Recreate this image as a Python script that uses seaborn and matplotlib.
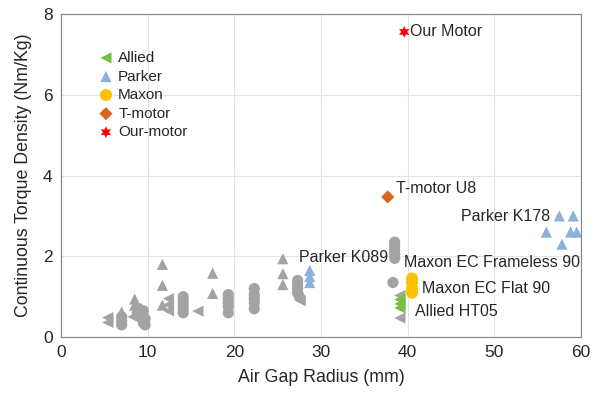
import matplotlib
matplotlib.use("Agg")
import matplotlib.pyplot as plt
import seaborn as sns
import pandas as pd

# ---- data ----
gray_circle_x = [7.0, 7.0, 7.0, 8.8, 9.0, 9.0, 9.5, 9.5, 9.5, 9.7, 9.7,
                 14.1, 14.1, 14.1, 14.1, 14.1,
                 19.3, 19.3, 19.3, 19.3, 19.3,
                 22.3, 22.3, 22.3, 22.3, 22.3,
                 27.3, 27.3, 27.3, 27.3, 27.5,
                 38.5, 38.5, 38.5, 38.5, 38.5, 38.3]
gray_circle_y = [0.5, 0.4, 0.3, 0.6, 0.7, 0.55, 0.65, 0.5, 0.35, 0.45, 0.3,
                 1.0, 0.9, 0.8, 0.7, 0.6,
                 1.05, 0.95, 0.85, 0.75, 0.6,
                 1.2, 1.05, 0.95, 0.85, 0.7,
                 1.4, 1.3, 1.2, 1.1, 1.0,
                 2.35, 2.25, 2.15, 2.05, 1.95, 1.35]
gray_up_x = [7.0, 8.5, 8.5, 11.7, 11.7, 11.7, 17.5, 17.5, 25.6, 25.6, 25.6]
gray_up_y = [0.62, 0.94, 0.79, 1.8, 1.28, 0.79, 1.58, 1.08, 1.94, 1.57, 1.3]
gray_left_x = [5.4, 5.4, 8.3, 12.4, 12.4, 12.4, 15.8, 27.6, 39.1, 39.1]
gray_left_y = [0.48, 0.36, 0.5, 0.95, 0.8, 0.65, 0.64, 0.9, 1.03, 0.47]

allied_x = [39.1, 39.1, 39.1]
allied_y = [0.93, 0.82, 0.72]
parker_x = [28.7, 28.7, 28.7, 57.5, 59.1, 56.0, 58.8, 59.5, 57.8]
parker_y = [1.65, 1.5, 1.35, 3.0, 3.0, 2.6, 2.6, 2.6, 2.3]
maxon_x = [40.5, 40.5, 40.5, 40.5]
maxon_y = [1.45, 1.35, 1.2, 1.1]
tmotor_x = [37.7]
tmotor_y = [3.47]
our_x = [39.6]
our_y = [7.56]

group_names = ["Allied", "Parker", "Maxon", "T-motor", "Our-motor"]

annotations = [
    ("Our Motor", 40.3, 7.56, "left"),
    ("T-motor U8", 38.6, 3.68, "left"),
    ("Parker K178", 56.4, 2.98, "right"),
    ("Parker K089", 27.5, 1.97, "left"),
    ("Maxon EC Frameless 90", 39.6, 1.85, "left"),
    ("Maxon EC Flat 90", 41.7, 1.2, "left"),
    ("Allied HT05", 40.9, 0.64, "left"),
]

# ---- style ----
sns.set_theme(style="whitegrid")
plt.rcParams["font.family"] = ["Liberation Sans", "DejaVu Sans"]
txt = "#262626"

fig = plt.figure(figsize=(5.98, 3.93), dpi=100)
ax = fig.add_axes([0.102, 0.1425, 0.8696, 0.8215])

gray = "#a3a3a3"
for gx, gy, mk in [(gray_circle_x, gray_circle_y, "o"),
                   (gray_up_x, gray_up_y, "^"),
                   (gray_left_x, gray_left_y, "<")]:
    sns.scatterplot(x=gx, y=gy, marker=mk, color=gray, s=65,
                    edgecolor="none", ax=ax, legend=False, zorder=3)

df = pd.concat([
    pd.DataFrame({"x": allied_x, "y": allied_y, "g": "Allied"}),
    pd.DataFrame({"x": parker_x, "y": parker_y, "g": "Parker"}),
    pd.DataFrame({"x": maxon_x, "y": maxon_y, "g": "Maxon"}),
    pd.DataFrame({"x": tmotor_x, "y": tmotor_y, "g": "T-motor"}),
    pd.DataFrame({"x": our_x, "y": our_y, "g": "Our-motor"}),
], ignore_index=True)

palette = {"Allied": "#77c043", "Parker": "#8eb1dc", "Maxon": "#ffc000",
           "T-motor": "#d9661f", "Our-motor": "#ff0000"}
markers = {"Allied": "<", "Parker": "^", "Maxon": "o", "T-motor": "D",
           "Our-motor": (6, 1, 0)}
sizes = {"Allied": 65, "Parker": 65, "Maxon": 75, "T-motor": 45, "Our-motor": 75}

for g in group_names:
    sub = df[df["g"] == g]
    sns.scatterplot(data=sub, x="x", y="y", marker=markers[g], color=palette[g],
                    s=sizes[g], edgecolor="none", ax=ax, label=g, zorder=4)

for label, x, y, ha in annotations:
    ax.text(x, y, label, ha=ha, va="center", fontsize=11.5, color=txt, zorder=5)

ax.set_xlim(0, 60)
ax.set_ylim(0, 8)
ax.set_xticks([0, 10, 20, 30, 40, 50, 60])
ax.set_yticks([0, 2, 4, 6, 8])
ax.set_xlabel("Air Gap Radius (mm)", fontsize=12.8, color=txt, labelpad=6)
ax.set_ylabel("Continuous Torque Density (Nm/Kg)", fontsize=12.8, color=txt, labelpad=8)
ax.tick_params(axis="both", labelsize=12.5, colors=txt, direction="in",
               length=3, pad=6, width=0.6)
ax.tick_params(axis="both", color="#808080")
ax.grid(True, color="#e3e3e3", linewidth=0.8)
ax.set_axisbelow(True)
ax.set_facecolor("white")
for sp in ax.spines.values():
    sp.set_visible(True)
    sp.set_color("#8a8a8a")
    sp.set_linewidth(0.9)

leg = ax.legend(loc="upper left", bbox_to_anchor=(0.06, 0.905), frameon=False,
                fontsize=11, handletextpad=0.3, labelspacing=0.3,
                borderaxespad=0.0, handlelength=1.0)
for t in leg.get_texts():
    t.set_color(txt)

fig.savefig("out.png", dpi=100)
